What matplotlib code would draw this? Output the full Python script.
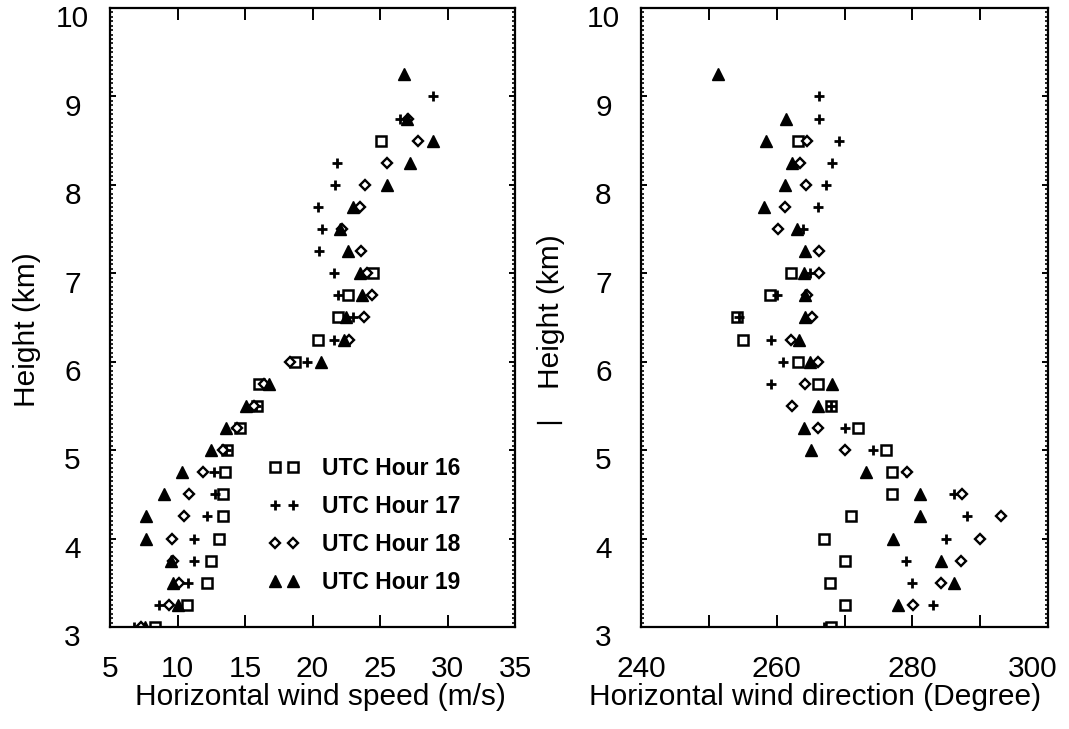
"""Wind speed / wind direction profiles for UTC hours 16-19 (two scatter panels)."""
import matplotlib
matplotlib.use("Agg")
import matplotlib.pyplot as plt
from matplotlib.lines import Line2D
from matplotlib.ticker import MultipleLocator, FuncFormatter
from matplotlib.transforms import ScaledTranslation

plt.rcParams["font.family"] = ["Liberation Sans", "DejaVu Sans"]

# ---- data ---------------------------------------------------------------
# wind speed (m/s)
h_spd_16 = [3.0, 3.25, 3.5, 3.75, 4.0, 4.25, 4.5, 4.75, 5.0, 5.25, 5.5, 5.75,
            6.0, 6.25, 6.5, 6.75, 7.0, 8.5]
spd_16 = [8.3, 10.7, 12.2, 12.5, 13.1, 13.35, 13.4, 13.5, 13.7, 14.6, 15.9, 16.0,
          18.7, 20.4, 21.9, 22.6, 24.5, 25.1]

h_spd_17 = [3.0, 3.25, 3.5, 3.75, 4.0, 4.25, 4.5, 4.75, 5.0, 5.25, 5.5, 5.75,
            6.0, 6.25, 6.5, 6.75, 7.0, 7.25, 7.5, 7.75, 8.0, 8.25, 8.75, 9.0]
spd_17 = [6.8, 8.6, 10.8, 11.2, 11.2, 12.2, 12.8, 12.7, 13.6, 14.3, 15.8, 16.4,
          19.6, 21.6, 23.0, 21.9, 21.6, 20.5, 20.7, 20.4, 21.7, 21.8, 26.5, 28.9]

h_spd_18 = [3.0, 3.25, 3.5, 3.75, 4.0, 4.25, 4.5, 4.75, 5.0, 5.25, 5.5, 5.75,
            6.0, 6.25, 6.5, 6.75, 7.0, 7.25, 7.5, 7.75, 8.0, 8.25, 8.5, 8.75]
spd_18 = [7.3, 9.4, 10.1, 9.7, 9.6, 10.5, 10.85, 11.9, 13.35, 14.4, 15.7, 16.4,
          18.3, 22.7, 23.8, 24.4, 24.0, 23.6, 22.2, 23.5, 23.9, 25.5, 27.8, 27.1]

h_spd_19 = [3.0, 3.25, 3.5, 3.75, 4.0, 4.25, 4.5, 4.75, 5.0, 5.25, 5.5, 5.75,
            6.0, 6.25, 6.5, 6.75, 7.0, 7.25, 7.5, 7.75, 8.0, 8.25, 8.5, 8.75, 9.25]
spd_19 = [7.6, 10.0, 9.7, 9.5, 7.65, 7.7, 9.0, 10.3, 12.5, 13.6, 15.05, 16.8,
          20.6, 22.3, 22.5, 23.7, 23.5, 22.6, 22.0, 23.0, 25.5, 27.2, 28.9, 27.0, 26.8]

# wind direction (degree)
h_dir_16 = [3.0, 3.25, 3.5, 3.75, 4.0, 4.25, 4.5, 4.75, 5.0, 5.25, 5.5, 5.75,
            6.0, 6.25, 6.5, 6.75, 7.0, 8.5]
dir_16 = [268.0, 270.0, 267.9, 270.0, 267.0, 271.0, 277.0, 277.0, 276.1, 272.0,
          268.0, 266.1, 263.2, 255.1, 254.2, 259.0, 262.1, 263.2]

h_dir_17 = [3.0, 3.25, 3.5, 3.75, 4.0, 4.25, 4.5, 4.75, 5.0, 5.25, 5.5, 5.75,
            6.0, 6.25, 6.5, 6.75, 7.0, 7.5, 7.75, 8.0, 8.25, 8.5, 8.75, 9.0]
dir_17 = [267.0, 283.1, 280.0, 279.1, 285.0, 288.1, 286.2, 279.0, 274.2, 270.1,
          268.0, 259.2, 260.9, 259.2, 254.5, 260.0, 264.9, 263.9, 266.1, 267.3,
          268.2, 269.2, 266.3, 266.3]

h_dir_18 = [3.25, 3.5, 3.75, 4.0, 4.25, 4.5, 4.75, 5.0, 5.25, 5.5, 5.75, 6.0,
            6.25, 6.5, 6.75, 7.0, 7.25, 7.5, 7.75, 8.0, 8.25, 8.5]
dir_18 = [280.1, 284.2, 287.2, 290.0, 293.1, 287.3, 279.2, 270.1, 266.1, 262.3,
          264.2, 266.1, 262.1, 265.2, 264.5, 266.3, 266.3, 260.2, 261.2, 264.3,
          263.5, 264.5]

h_dir_19 = [3.25, 3.5, 3.75, 4.0, 4.25, 4.5, 4.75, 5.0, 5.25, 5.5, 5.75, 6.0,
            6.25, 6.5, 6.75, 7.0, 7.25, 7.5, 7.75, 8.0, 8.25, 8.5, 8.75, 9.25]
dir_19 = [277.9, 286.2, 284.2, 277.2, 281.1, 281.1, 273.2, 265.1, 264.0, 266.1,
          268.2, 264.9, 263.3, 264.2, 264.2, 264.0, 264.2, 263.0, 258.1, 261.2,
          262.3, 258.4, 261.4, 251.4]

hour_labels = ["UTC Hour 16", "UTC Hour 17", "UTC Hour 18", "UTC Hour 19"]

# marker styles per hour
styles = [
    dict(marker="s", ms=7.0, mfc="white", mec="black", mew=1.8),
    dict(marker="+", ms=7, mec="black", mew=2.0),
    dict(marker="D", ms=5.3, mfc="white", mec="black", mew=1.7),
    dict(marker="^", ms=8.5, mfc="black", mec="black", mew=1.0),
]

FS = 21.5


def style_axes(ax, fig):
    for sp in ax.spines.values():
        sp.set_linewidth(1.6)
    ax.tick_params(which="both", direction="in", top=True, right=True,
                   labelsize=FS, width=1.4)
    ax.tick_params(axis="x", which="major", length=8.5, pad=20)
    ax.tick_params(axis="y", which="major", length=4.5, pad=27)
    ax.tick_params(axis="y", which="minor", length=2.2, width=1.2)
    ax.tick_params(axis="x", which="minor", length=0)
    ax.set_ylim(3, 10)
    ax.yaxis.set_major_locator(MultipleLocator(1))
    ax.yaxis.set_minor_locator(MultipleLocator(0.05))
    # the scanned labels sit a little below their ticks
    shift = ScaledTranslation(0, -6 / 72, fig.dpi_scale_trans)
    for lab in ax.get_yticklabels():
        lab.set_horizontalalignment("center")
        lab.set_transform(lab.get_transform() + shift)


fig = plt.figure(figsize=(10.69, 7.29), dpi=100)
ax1 = fig.add_axes([110 / 1069, 1 - 627 / 729, 405 / 1069, 619 / 729])
ax2 = fig.add_axes([641 / 1069, 1 - 627 / 729, 407 / 1069, 619 / 729])

spd = [(spd_16, h_spd_16), (spd_17, h_spd_17), (spd_18, h_spd_18), (spd_19, h_spd_19)]
drc = [(dir_16, h_dir_16), (dir_17, h_dir_17), (dir_18, h_dir_18), (dir_19, h_dir_19)]

for (x, y), st, lab in zip(spd, styles, hour_labels):
    ax1.plot(x, y, ls="none", label=lab, **st)
for (x, y), st in zip(drc, styles):
    ax2.plot(x, y, ls="none", **st)

# left panel
ax1.set_xlim(5, 35)
ax1.xaxis.set_major_locator(MultipleLocator(5))
style_axes(ax1, fig)
ax1.set_xlabel("Horizontal wind speed (m/s)", fontsize=FS)
ax1.set_ylabel("Height (km)", fontsize=FS)
ax1.xaxis.set_label_coords(0.52, -0.09)
ax1.yaxis.set_label_coords(-0.17, 0.48)

leg = ax1.legend(loc="upper left", bbox_to_anchor=(0.39, 0.275), frameon=False,
                 numpoints=2, handlelength=1.38, handletextpad=0.96,
                 labelspacing=0.66, borderpad=0, borderaxespad=0,
                 prop=dict(weight="bold", size=16.5))

# right panel
ax2.set_xlim(240, 300)
ax2.xaxis.set_major_locator(MultipleLocator(10))
ax2.xaxis.set_major_formatter(FuncFormatter(lambda v, p: f"{v:.0f}" if v % 20 == 0 else ""))
style_axes(ax2, fig)
ax2.set_xlabel("Horizontal wind direction (Degree)", fontsize=FS)
ax2.set_ylabel("Height (km)", fontsize=FS)
ax2.xaxis.set_label_coords(0.4275, -0.09)
ax2.yaxis.set_label_coords(-0.187, 0.51)

fig.canvas.draw()
# pull the "300" label in a little so it stays on the page
left_shift = ScaledTranslation(-11 / 72, 0, fig.dpi_scale_trans)
for lab in ax2.get_xticklabels():
    if lab.get_text() == "300":
        lab.set_transform(lab.get_transform() + left_shift)

# small stray dash left of the right-hand y label (present in the original)
fig.add_artist(Line2D([538 / 1069, 561 / 1069], [1 - 423 / 729] * 2,
                      color="black", lw=1.6))

fig.savefig("out.png", dpi=100)
